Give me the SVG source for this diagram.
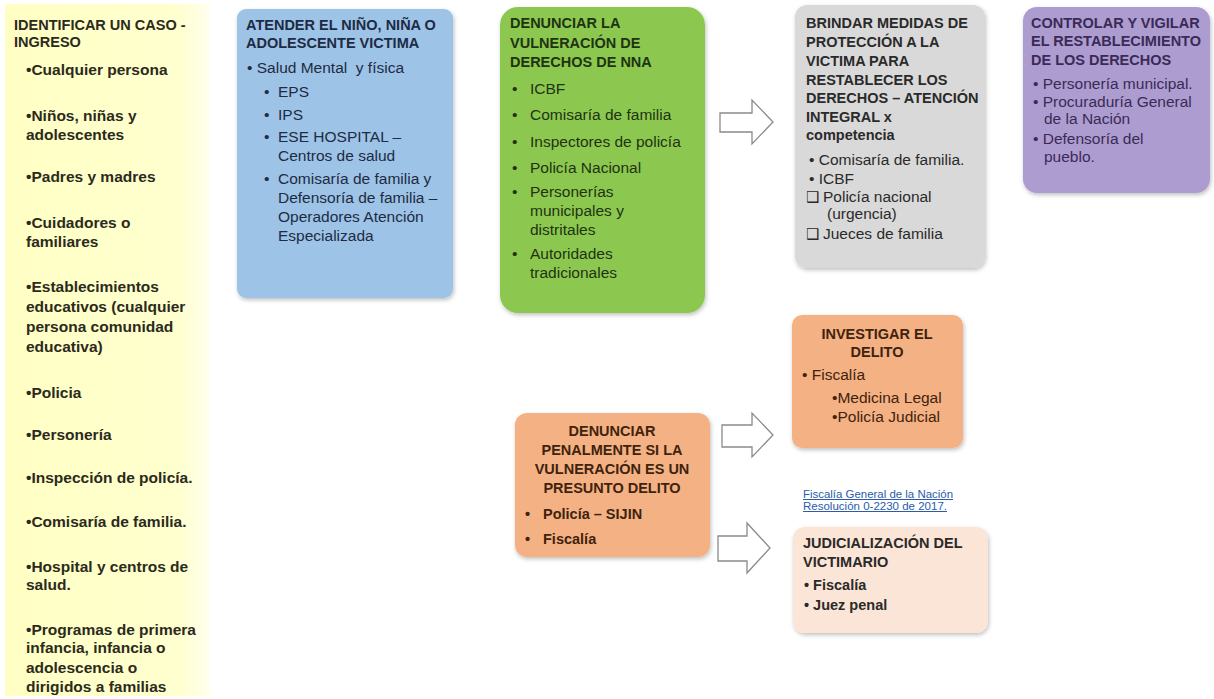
<svg xmlns="http://www.w3.org/2000/svg" width="1214" height="699" viewBox="0 0 1214 699">
<defs>
<linearGradient id="yel" x1="0" y1="0" x2="1" y2="0">
<stop offset="0" stop-color="#FFFFC4"/>
<stop offset="0.85" stop-color="#FFFFCF"/>
<stop offset="1" stop-color="#FFFFEE"/>
</linearGradient>
<filter id="sh" x="-10%" y="-10%" width="130%" height="130%">
<feDropShadow dx="1" dy="2" stdDeviation="2" flood-color="#000" flood-opacity="0.25"/>
</filter>
</defs>
<style>
text{font-family:"Liberation Sans",Arial,sans-serif;font-size:15.5px}
.t{font-weight:bold;font-size:14.5px}
.yb{font-weight:bold;font-size:15.5px}
.bb{font-weight:bold;font-size:14.5px}
.y{fill:#2b2a1c}
.bl{fill:#1d2b44}
.g{fill:#1f3312}
.gr{fill:#2a2a2a}
.p{fill:#3a2a57}
.o{fill:#3f230e}
.ck{font-family:"DejaVu Sans",sans-serif;font-size:15px}
.arrow{fill:#fff;stroke:#8a8a8a;stroke-width:1.3}
.lnk{font-size:10px;fill:#2a5caa;text-decoration:underline}
</style>
<rect width="1214" height="699" fill="#fff"/>

<g id="identificar">
<rect x="5" y="4" width="205" height="692" fill="url(#yel)"/>
<text class="t y" x="14" y="30">IDENTIFICAR UN CASO -</text>
<text class="t y" x="14" y="47">INGRESO</text>
<text class="yb y" x="26" y="75">•Cualquier persona</text>
<text class="yb y" x="26" y="121">•Niños, niñas y</text>
<text class="yb y" x="26" y="140">adolescentes</text>
<text class="yb y" x="26" y="182">•Padres y madres</text>
<text class="yb y" x="26" y="228">•Cuidadores o</text>
<text class="yb y" x="26" y="247">familiares</text>
<text class="yb y" x="26" y="292">•Establecimientos</text>
<text class="yb y" x="26" y="312">educativos (cualquier</text>
<text class="yb y" x="26" y="332">persona comunidad</text>
<text class="yb y" x="26" y="352">educativa)</text>
<text class="yb y" x="26" y="398">•Policia</text>
<text class="yb y" x="26" y="440">•Personería</text>
<text class="yb y" x="26" y="483">•Inspección de policía.</text>
<text class="yb y" x="26" y="527">•Comisaría de familia.</text>
<text class="yb y" x="26" y="572">•Hospital y centros de</text>
<text class="yb y" x="26" y="590">salud.</text>
<text class="yb y" x="26" y="635">•Programas de primera</text>
<text class="yb y" x="26" y="653">infancia, infancia o</text>
<text class="yb y" x="26" y="673">adolescencia o</text>
<text class="yb y" x="26" y="692">dirigidos a familias</text>
</g>

<g id="atender">
<rect x="237" y="9" width="216" height="289" rx="9" fill="#9DC3E6" filter="url(#sh)"/>
<text class="t bl" x="246" y="30">ATENDER EL NIÑO, NIÑA O</text>
<text class="t bl" x="246" y="48">ADOLESCENTE VICTIMA</text>
<text class="bl" x="247" y="73" xml:space="preserve">• Salud Mental  y física</text>
<text class="bl" x="264" y="97">•</text><text class="bl" x="278" y="97">EPS</text>
<text class="bl" x="264" y="120">•</text><text class="bl" x="278" y="120">IPS</text>
<text class="bl" x="264" y="142">•</text><text class="bl" x="278" y="142">ESE HOSPITAL –</text>
<text class="bl" x="278" y="161">Centros de salud</text>
<text class="bl" x="264" y="184">•</text><text class="bl" x="278" y="184">Comisaría de familia y</text>
<text class="bl" x="278" y="203">Defensoría de familia –</text>
<text class="bl" x="278" y="222">Operadores Atención</text>
<text class="bl" x="278" y="241">Especializada</text>
</g>

<g id="denunciar">
<rect x="500" y="7" width="205" height="306" rx="18" fill="#8CC850" filter="url(#sh)"/>
<text class="t g" x="510" y="28">DENUNCIAR LA</text>
<text class="t g" x="510" y="48">VULNERACIÓN DE</text>
<text class="t g" x="510" y="67">DERECHOS DE NNA</text>
<text class="g" x="512" y="94">•</text><text class="g" x="530" y="94">ICBF</text>
<text class="g" x="512" y="120">•</text><text class="g" x="530" y="120">Comisaría de familia</text>
<text class="g" x="512" y="147">•</text><text class="g" x="530" y="147">Inspectores de policía</text>
<text class="g" x="512" y="173">•</text><text class="g" x="530" y="173">Policía Nacional</text>
<text class="g" x="512" y="197">•</text><text class="g" x="530" y="197">Personerías</text>
<text class="g" x="530" y="216">municipales y</text>
<text class="g" x="530" y="235">distritales</text>
<text class="g" x="512" y="259">•</text><text class="g" x="530" y="259">Autoridades</text>
<text class="g" x="530" y="278">tradicionales</text>
</g>

<g id="brindar">
<rect x="795" y="5" width="190" height="263" rx="12" fill="#D9D9D9" filter="url(#sh)"/>
<text class="t gr" x="806" y="28">BRINDAR MEDIDAS DE</text>
<text class="t gr" x="806" y="47">PROTECCIÓN A LA</text>
<text class="t gr" x="806" y="66">VICTIMA PARA</text>
<text class="t gr" x="806" y="85">RESTABLECER LOS</text>
<text class="t gr" x="806" y="103">DERECHOS – ATENCIÓN</text>
<text class="t gr" x="806" y="122">INTEGRAL x</text>
<text class="t gr" x="806" y="140">competencia</text>
<text class="gr" x="809" y="165">• Comisaría de familia.</text>
<text class="gr" x="809" y="184">• ICBF</text>
<text class="gr ck" x="806" y="202">❑</text><text class="gr" x="823" y="202">Policía nacional</text>
<text class="gr" x="827" y="219">(urgencia)</text>
<text class="gr ck" x="806" y="239">❑</text><text class="gr" x="823" y="239">Jueces de familia</text>
</g>

<g id="controlar">
<rect x="1023" y="7" width="187" height="186" rx="14" fill="#AD9CCF" filter="url(#sh)"/>
<text class="t p" x="1031" y="28">CONTROLAR Y VIGILAR</text>
<text class="t p" x="1031" y="46">EL RESTABLECIMIENTO</text>
<text class="t p" x="1031" y="65">DE LOS DERECHOS</text>
<text class="p" x="1033" y="89">• Personería municipal.</text>
<text class="p" x="1033" y="107">• Procuraduría General</text>
<text class="p" x="1044" y="124">de la Nación</text>
<text class="p" x="1033" y="144">• Defensoría del</text>
<text class="p" x="1044" y="162">pueblo.</text>
</g>

<g id="denunciar-penal">
<rect x="515" y="413" width="195" height="144" rx="12" fill="#F4B183" filter="url(#sh)"/>
<text class="t o" x="612" y="436" text-anchor="middle">DENUNCIAR</text>
<text class="t o" x="612" y="455" text-anchor="middle">PENALMENTE SI LA</text>
<text class="t o" x="612" y="474" text-anchor="middle">VULNERACIÓN ES UN</text>
<text class="t o" x="612" y="493" text-anchor="middle">PRESUNTO DELITO</text>
<text class="bb o" x="525" y="519">•</text><text class="bb o" x="543" y="519">Policía – SIJIN</text>
<text class="bb o" x="525" y="544">•</text><text class="bb o" x="543" y="544">Fiscalía</text>
</g>

<g id="investigar">
<rect x="792" y="315" width="171" height="133" rx="10" fill="#F4B183" filter="url(#sh)"/>
<text class="t o" x="877" y="339" text-anchor="middle">INVESTIGAR EL</text>
<text class="t o" x="877" y="357" text-anchor="middle">DELITO</text>
<text class="o" x="802" y="380">• Fiscalía</text>
<text class="o" x="832" y="403">•Medicina Legal</text>
<text class="o" x="832" y="422">•Policía Judicial</text>
</g>

<g id="fuente">
<text class="lnk" x="803" y="498" textLength="150" lengthAdjust="spacingAndGlyphs">Fiscalía General de la Nación</text>
<text class="lnk" x="803" y="510" textLength="144" lengthAdjust="spacingAndGlyphs">Resolución 0-2230 de 2017.</text>
</g>

<g id="judicializacion">
<rect x="793" y="527" width="195" height="106" rx="12" fill="#FBE5D6" filter="url(#sh)"/>
<text class="t gr" x="803" y="548">JUDICIALIZACIÓN DEL</text>
<text class="t gr" x="803" y="567">VICTIMARIO</text>
<text class="bb gr" x="804" y="590">• Fiscalía</text>
<text class="bb gr" x="804" y="610">• Juez penal</text>
</g>

<g id="connectors">
<path class="arrow" d="M720,113 H752 V100 L773,122 L752,144 V132 H720 Z"/>
<path class="arrow" d="M722,425 H752 V413 L773,435 L752,457 V447 H722 Z"/>
<path class="arrow" d="M718,536 H747 V523 L770,548 L747,573 V561 H718 Z"/>
</g>
</svg>
